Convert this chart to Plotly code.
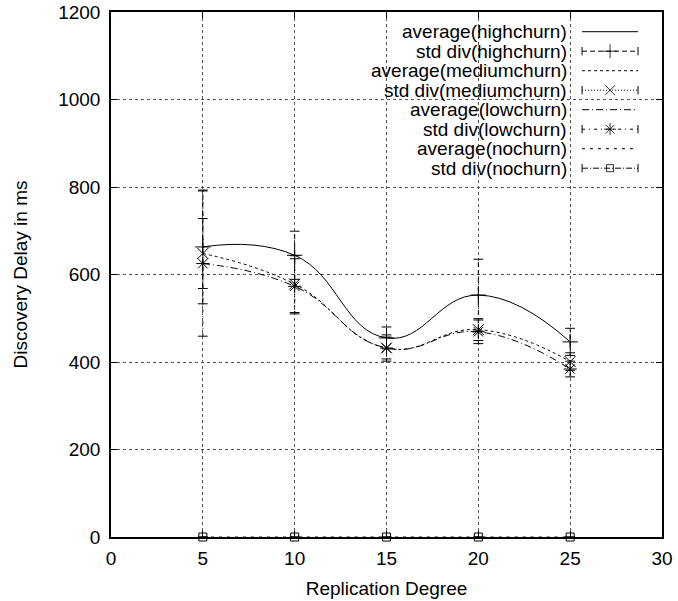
import plotly.graph_objects as go

# replication degree on the x axis
degree = [5, 10, 15, 20, 25]

# mean discovery delay (ms) per churn level
avg_high = [663, 644, 455, 553, 446]
avg_medium = [648, 578, 432, 474, 401]
avg_low = [625, 573, 432, 469, 384]
avg_none = [0, 0, 0, 0, 0]

# standard deviation per churn level
std_high = [130, 55, 25, 82, 31]
std_medium = [80, 65, 25, 25, 20]
std_low = [166, 63, 30, 27, 18]
std_none = [0, 0, 0, 0, 0]

legend_labels = [
    "average(highchurn)", "std div(highchurn)",
    "average(mediumchurn)", "std div(mediumchurn)",
    "average(lowchurn)", "std div(lowchurn)",
    "average(nochurn)", "std div(nochurn)",
]

FONT = "Liberation Sans, Arial, sans-serif"
FS = 19
W, H = 678, 601
# plot area in pixels
PL, PT, PR, PB = 110.5, 12, 662, 537
PW, PH = PR - PL, PB - PT

series = [
    # avg, std, avg dash, std dash, marker
    (avg_high, std_high, "solid", "5px,3px", "cross-thin-open"),
    (avg_medium, std_medium, "3px,3px", "1px,2px", "x-thin-open"),
    (avg_low, std_low, "7px,3px,1px,3px", "3px,4px,1px,4px", "asterisk-open"),
    (avg_none, std_none, "3px,5px", "6px,2px,1px,2px", "square-open"),
]


def marker_size(sym):
    return 8 if sym == "square-open" else 11


fig = go.Figure()

for avg, std, adash, sdash, sym in series:
    # smoothed average curve
    fig.add_trace(go.Scatter(
        x=degree, y=avg, mode="lines",
        line=dict(color="black", width=1, dash=adash, shape="spline", smoothing=1.3),
        showlegend=False, cliponaxis=False,
    ))
    # error bars drawn as dashed vertical segments
    ex, ey = [], []
    for xv, m, s in zip(degree, avg, std):
        ex += [xv, xv, None]
        ey += [m - s, m + s, None]
    fig.add_trace(go.Scatter(
        x=ex, y=ey, mode="lines",
        line=dict(color="black", width=1, dash=sdash),
        showlegend=False, cliponaxis=False,
    ))
    # caps
    fig.add_trace(go.Scatter(
        x=degree + degree,
        y=[m - s for m, s in zip(avg, std)] + [m + s for m, s in zip(avg, std)],
        mode="markers",
        marker=dict(symbol="line-ew-open", size=7, color="black", line=dict(width=1, color="black")),
        showlegend=False, cliponaxis=False,
    ))
    # point markers
    fig.add_trace(go.Scatter(
        x=degree, y=avg, mode="markers",
        marker=dict(symbol=sym, size=marker_size(sym), color="black",
                    line=dict(width=1, color="black")),
        showlegend=False, cliponaxis=False,
    ))

# legend box hides the grid behind it
fig.add_shape(type="rect", xref="paper", yref="paper",
              x0=(330 - PL) / PW, x1=1, y0=1 - (178 - PT) / PH, y1=1,
              fillcolor="white", line=dict(width=0), layer="between")

# legend, gnuplot style: right aligned text with the sample on the right
row0, step = 31.7, 19.5
sx0, sx1, tx = 582, 638, 569
for i, label in enumerate(legend_labels):
    py = row0 + i * step
    yp = 1 - (py - PT) / PH
    fig.add_annotation(text=label, xref="paper", yref="paper",
                       x=(tx - PL) / PW, y=yp, xanchor="right", yanchor="middle",
                       showarrow=False, font=dict(family=FONT, size=FS, color="black"))
    avg, std, adash, sdash, sym = series[i // 2]
    x0p, x1p = (sx0 - PL) / PW, (sx1 - PL) / PW
    if i % 2 == 0:
        fig.add_trace(go.Scatter(
            x=[x0p, x1p], y=[yp, yp], xaxis="x2", yaxis="y2", mode="lines",
            line=dict(color="black", width=1, dash=adash), showlegend=False,
        ))
    else:
        fig.add_trace(go.Scatter(
            x=[x0p, x1p], y=[yp, yp], xaxis="x2", yaxis="y2", mode="lines+markers",
            line=dict(color="black", width=1, dash=sdash),
            marker=dict(symbol="line-ns-open", size=6, color="black", line=dict(width=1, color="black")),
            showlegend=False,
        ))
        fig.add_trace(go.Scatter(
            x=[(x0p + x1p) / 2], y=[yp], xaxis="x2", yaxis="y2", mode="markers",
            marker=dict(symbol=sym, size=marker_size(sym) - 1, color="black",
                        line=dict(width=0.8, color="black")),
            showlegend=False,
        ))

axis_common = dict(
    showline=True, linecolor="black", linewidth=1.5, mirror="ticks",
    ticks="inside", ticklen=6, tickcolor="black", tickwidth=1,
    showgrid=True, gridcolor="#555555", griddash="dot", gridwidth=1,
    zeroline=False, automargin=False, ticklabeloverflow="allow",
    tickfont=dict(family=FONT, size=FS, color="black"),
)

fig.update_layout(
    width=W, height=H,
    margin=dict(l=PL, r=W - PR, t=PT, b=H - PB),
    plot_bgcolor="white", paper_bgcolor="white",
    font=dict(family=FONT, size=FS, color="black"),
    xaxis=dict(range=[0, 30], dtick=5, ticklabelstandoff=3,
               title=dict(text="Replication Degree", font=dict(family=FONT, size=FS), standoff=14),
               **axis_common),
    yaxis=dict(range=[0, 1200], dtick=200, ticklabelstandoff=5,
               title=dict(text="Discovery Delay in ms", font=dict(family=FONT, size=FS), standoff=26),
               **axis_common),
    xaxis2=dict(range=[0, 1], overlaying="x", visible=False, fixedrange=True),
    yaxis2=dict(range=[0, 1], overlaying="y", visible=False, fixedrange=True),
)

# drop the default page margin so the figure fills the window exactly
fig.write_html("out.html", config={"displayModeBar": False},
               post_script="document.body.style.margin = '0';")
